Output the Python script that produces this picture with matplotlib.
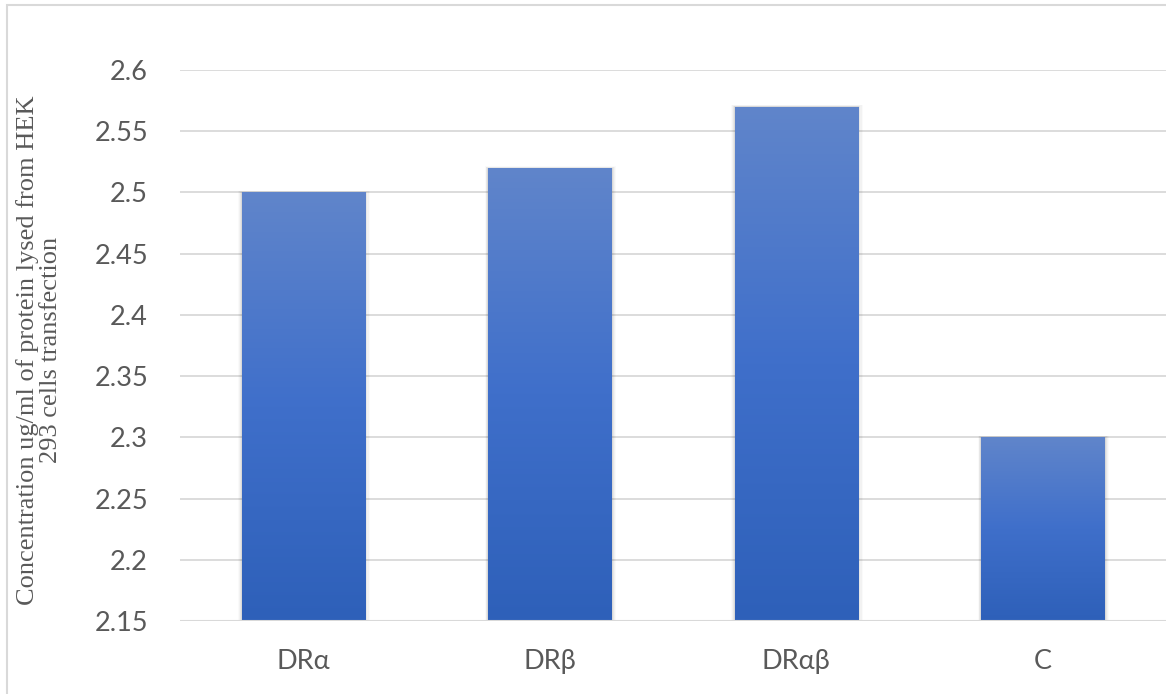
import matplotlib
matplotlib.use("Agg")
import matplotlib.pyplot as plt
import numpy as np
from matplotlib.patches import Rectangle
from matplotlib.colors import LinearSegmentedColormap

categories = ["DRα", "DRβ", "DRαβ", "C"]
values = [2.50, 2.52, 2.57, 2.30]
yticks = [2.15, 2.2, 2.25, 2.3, 2.35, 2.4, 2.45, 2.5, 2.55, 2.6]
ytick_labels = ["2.15", "2.2", "2.25", "2.3", "2.35", "2.4", "2.45", "2.5", "2.55", "2.6"]
ylabel = "Concentration ug/ml of protein lysed from HEK\n293 cells transfection"

W, H = 1166, 694
fig = plt.figure(figsize=(W / 100, H / 100), dpi=100)
ax = fig.add_axes([180 / W, 1 - 621 / H, (1166 - 180) / W, (621 - 70) / H])

ax.set_ylim(2.15, 2.6)
ax.set_xlim(-0.5, len(categories) - 0.5)

grid_col = "#d9d9d9"
for y in yticks[1:]:
    ax.axhline(y, color=grid_col, lw=1.3, zorder=0)

x = np.arange(len(categories))
bars = ax.bar(x, [v - 2.15 for v in values], bottom=2.15, width=0.5,
              color="none", edgecolor="none", zorder=3)

cmap = LinearSegmentedColormap.from_list("g", ["#2e60b9", "#3f6fca", "#6085cb"])
grad = np.linspace(0, 1, 256).reshape(-1, 1)
for b in bars:
    x0, y0, w, h = b.get_x(), b.get_y(), b.get_width(), b.get_height()
    # soft shadow
    for i, a in enumerate([0.06, 0.045, 0.03, 0.02]):
        dx = 0.005 * (i + 1)
        dy = 0.0012 * (i + 1)
        ax.add_patch(Rectangle((x0 - dx * 0.7, y0), w + dx * 1.7, h + dy * 0.3,
                               facecolor="black", alpha=a, edgecolor="none", zorder=2))
    im = ax.imshow(grad, cmap=cmap, origin="lower", aspect="auto",
                   extent=(x0, x0 + w, y0, y0 + h), zorder=3, interpolation="bilinear")
    im.set_clip_path(b)

ax.axhline(2.15, color=grid_col, lw=1.5, zorder=4)

for s in ax.spines.values():
    s.set_visible(False)

ax.set_yticks(yticks)
ax.set_yticklabels(ytick_labels)
ax.set_xticks(x)
ax.set_xticklabels(categories)
ax.tick_params(axis="both", length=0, labelsize=19.5, labelcolor="#595959")
ax.tick_params(axis="y", pad=23)
ax.tick_params(axis="x", pad=20)
for lbl in ax.get_xticklabels() + ax.get_yticklabels():
    lbl.set_fontfamily(["Lato", "DejaVu Sans"])

fig.text(39 / W, 1 - 350 / H, ylabel, rotation=90, ha="center", va="center",
         fontsize=19, family="Liberation Serif", color="#595959",
         linespacing=1.08, multialignment="center")

fig.patches.append(Rectangle((7 / W, -0.1), 1.2, 1.1 - 5 / H, transform=fig.transFigure,
                             facecolor="none", edgecolor=grid_col, lw=1.5, zorder=10))

fig.savefig("out.png", dpi=100)
